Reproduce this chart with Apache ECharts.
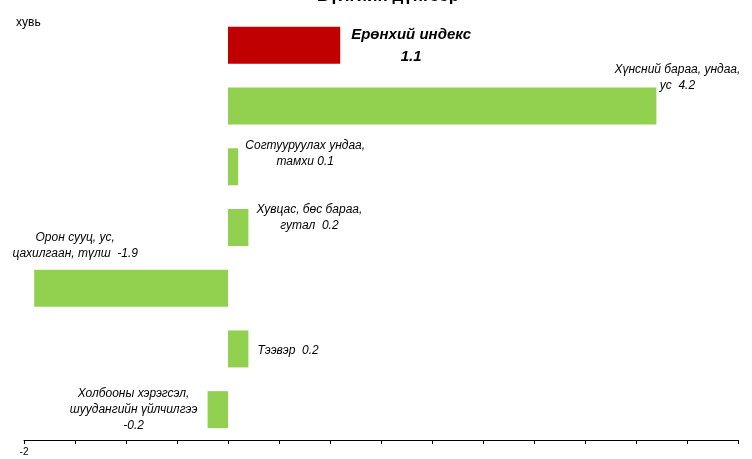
<!DOCTYPE html>
<html>
<head>
<meta charset="utf-8">
<script src="https://cdn.jsdelivr.net/npm/echarts@6/dist/echarts.min.js"></script>
<style>
  html, body { margin: 0; padding: 0; background: #fff; }
  #chart { width: 752px; height: 459px; }
</style>
</head>
<body>
<div id="chart"></div>
<script>
// categories, top to bottom
const categories = [
  "Ерөнхий индекс",
  "Хүнсний бараа, ундаа, ус",
  "Согтууруулах ундаа, тамхи",
  "Хувцас, бөс бараа, гутал",
  "Орон сууц, ус, цахилгаан, түлш",
  "Тээвэр",
  "Холбооны хэрэгсэл, шуудангийн үйлчилгээ"
];
const values = [1.1, 4.2, 0.1, 0.2, -1.9, 0.2, -0.2];
// label text as it is broken in the picture
const labelTexts = [
  "Ерөнхий индекс\n1.1",
  "Хүнсний бараа, ундаа,\nус  4.2",
  "Согтууруулах ундаа,\nтамхи 0.1",
  "Хувцас, бөс бараа,\nгутал  0.2",
  "Орон сууц, ус,\nцахилгаан, түлш  -1.9",
  "Тээвэр  0.2",
  "Холбооны хэрэгсэл,\nшуудангийн үйлчилгээ\n-0.2"
];

const font = "'Liberation Sans Narrow', 'Liberation Sans', Arial, sans-serif";

// label placement per bar
const labelCfg = [
  { position: "right", distance: 5, align: "center", offset: [66, 1], fontSize: 15, fontWeight: "bold", lineHeight: 22 },
  { position: "right", distance: 5, align: "center", offset: [16, -28] },
  { position: "right", distance: 5, align: "center", offset: [62, -13] },
  { position: "right", distance: 5, align: "center", offset: [56, -10] },
  { position: "left", distance: 5, align: "center", offset: [46, -43] },
  { position: "right", distance: 9, align: "left", offset: [0, 2] },
  { position: "left", distance: 5, align: "center", offset: [-69, 0] }
];

const seriesData = values.map((v, i) => ({
  value: v,
  itemStyle: { color: i === 0 ? "#C00000" : "#92D050" },
  label: Object.assign({
    show: true,
    formatter: labelTexts[i],
    fontFamily: font,
    fontStyle: "italic",
    fontSize: 12,
    lineHeight: 16,
    color: "#000"
  }, labelCfg[i])
}));

const myChart = echarts.init(document.getElementById("chart"));
myChart.setOption({
  animation: false,
  title: [
    {
      text: "Бүлгийн дүнгээр",
      left: 312,
      top: -17,
      textStyle: { fontFamily: font, fontSize: 17, fontWeight: "bold", color: "#000" }
    },
    {
      text: "хувь",
      left: 11,
      top: 12,
      textStyle: { fontFamily: "'Liberation Sans', Arial, sans-serif", fontSize: 12, fontWeight: "normal", color: "#000" }
    }
  ],
  grid: { left: 24, right: 14, top: 15, bottom: 19, containLabel: false },
  xAxis: {
    type: "value",
    min: -2,
    max: 5,
    interval: 0.5,
    splitLine: { show: false },
    axisLine: { show: true, onZero: false, lineStyle: { color: "#000", width: 1 } },
    axisTick: { show: true, length: 4, inside: false, lineStyle: { color: "#000" } },
    axisLabel: {
      fontSize: 10,
      color: "#000",
      margin: 7,
      formatter: (v) => (v === -2 ? "-2" : "")
    }
  },
  yAxis: {
    type: "category",
    inverse: true,
    data: categories,
    axisLine: { show: false },
    axisTick: { show: false },
    axisLabel: { show: false },
    splitLine: { show: false }
  },
  series: [
    {
      type: "bar",
      data: seriesData,
      barWidth: 37,
      silent: true
    }
  ]
});
</script>
</body>
</html>
